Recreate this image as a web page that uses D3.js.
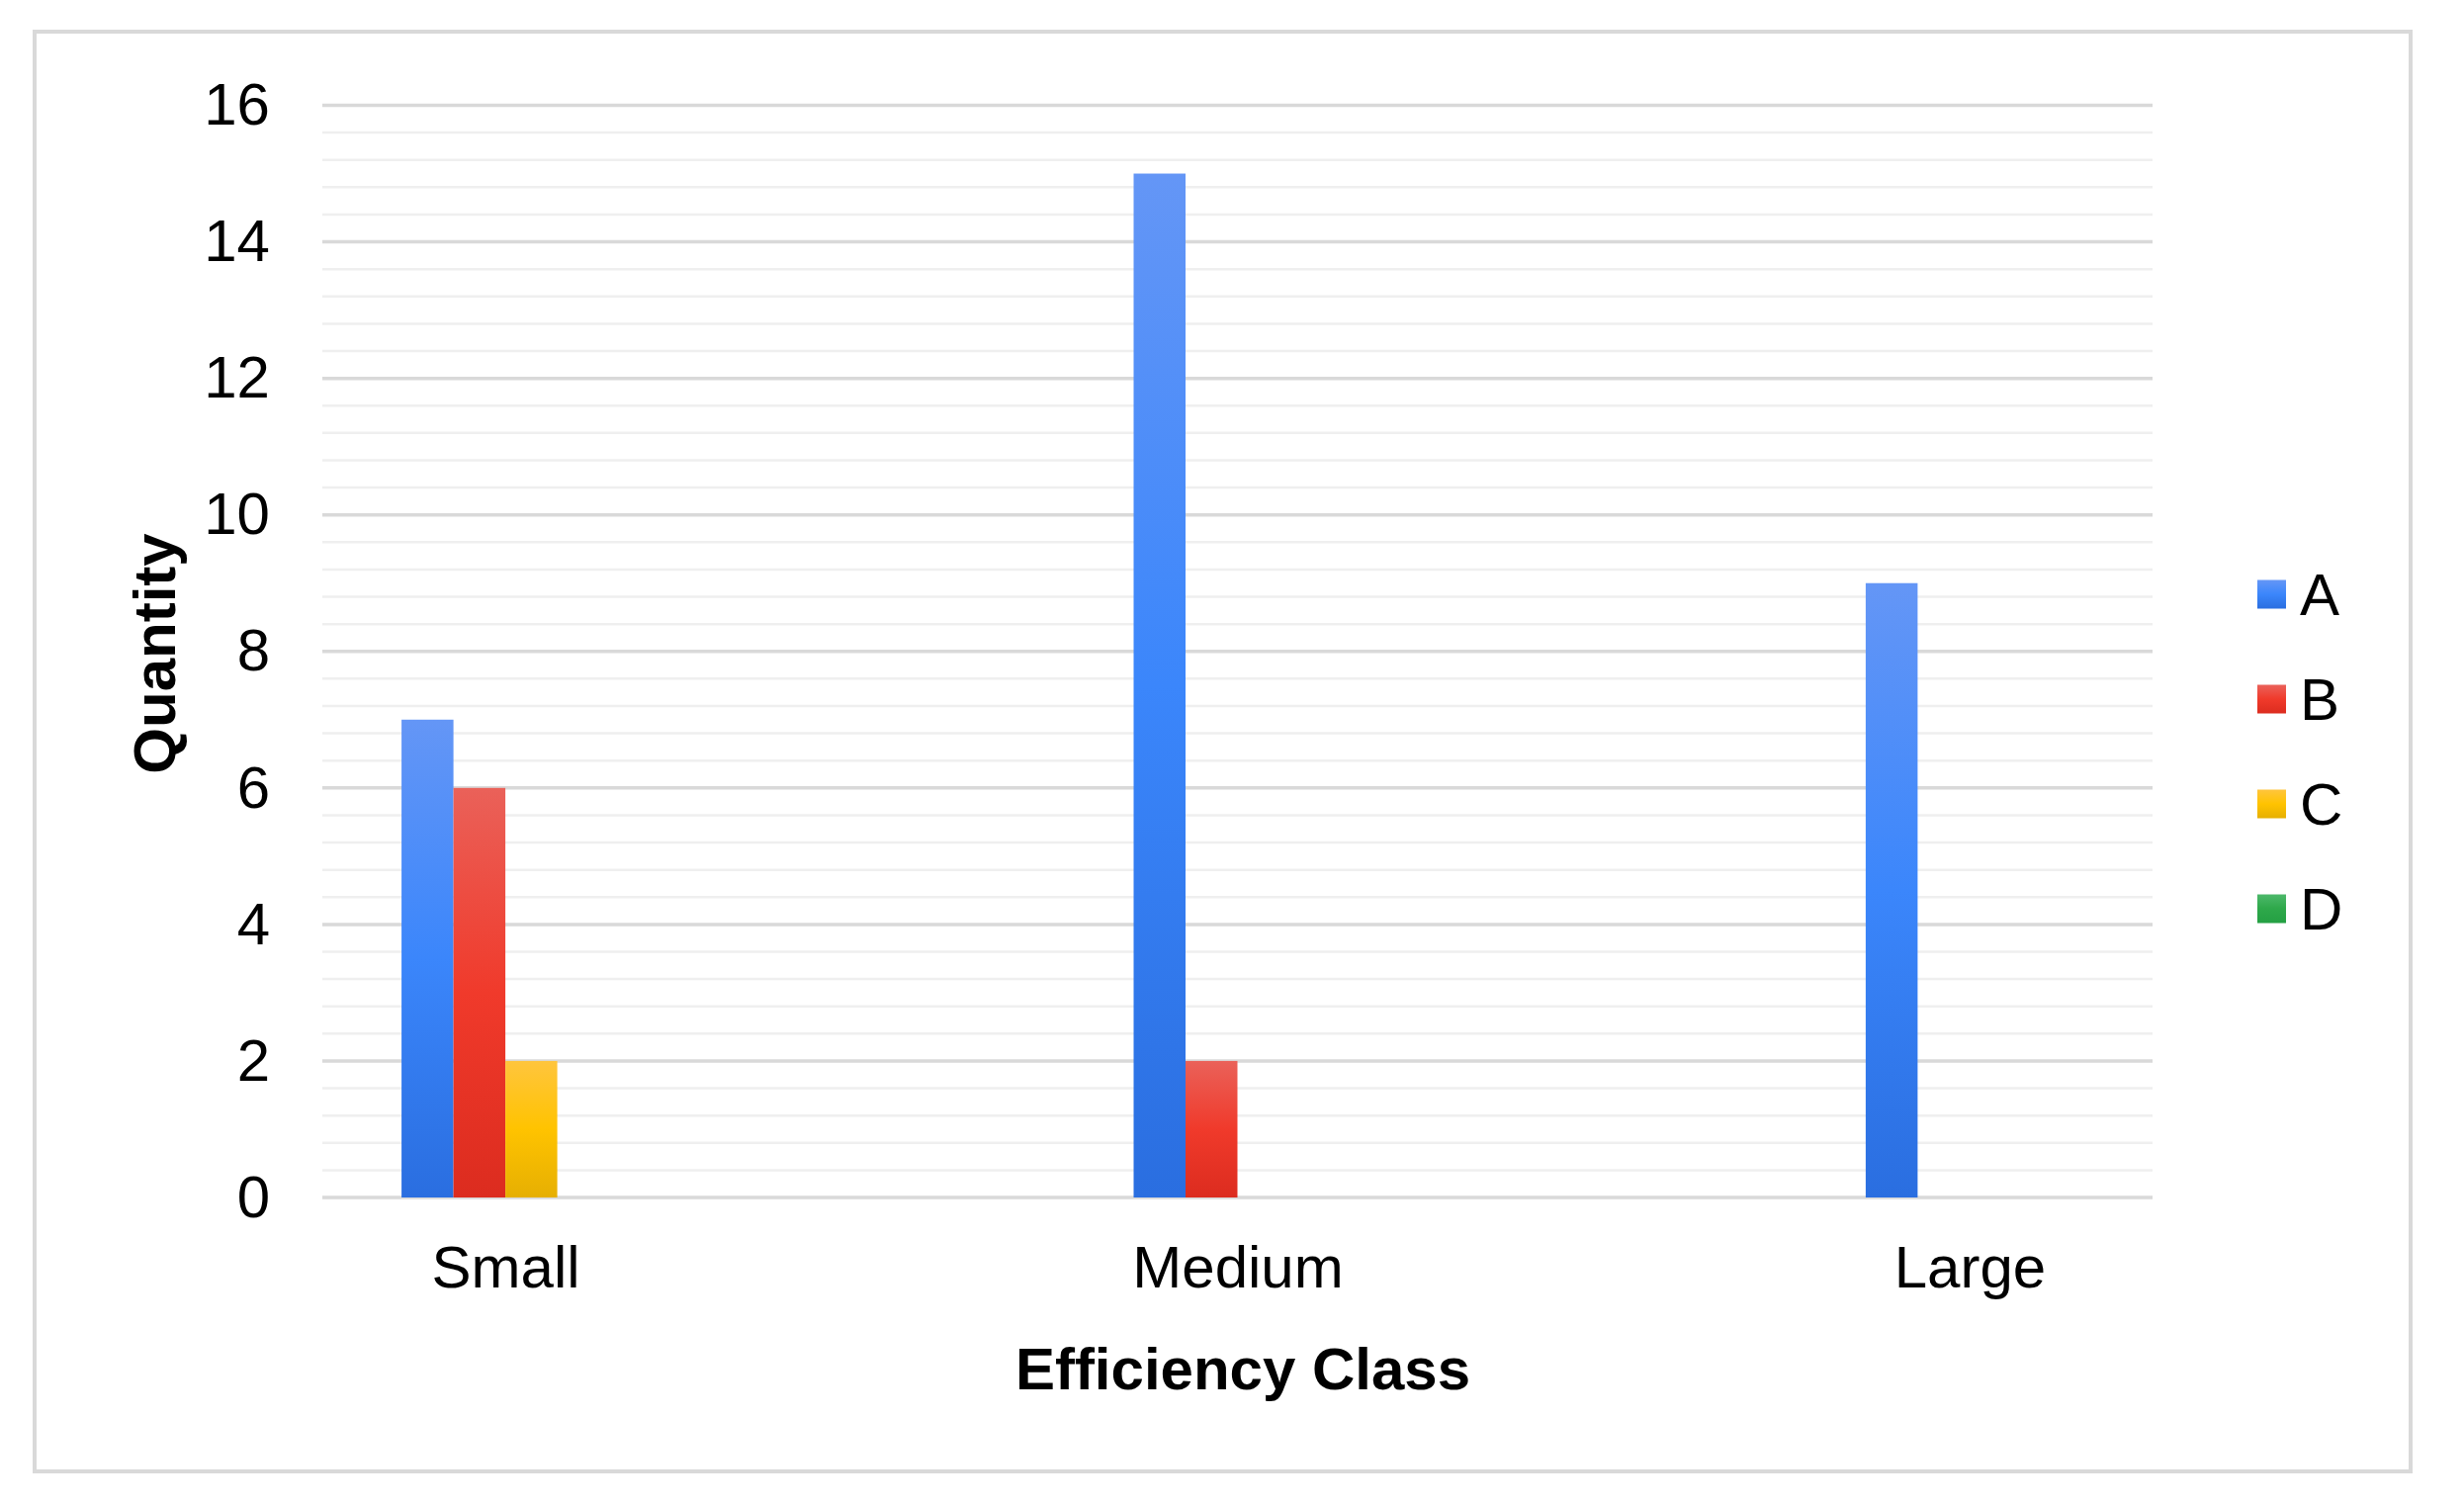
<!DOCTYPE html>
<html><head><meta charset="utf-8">
<script src="https://cdn.jsdelivr.net/npm/d3@7"></script>
<style>html,body{margin:0;padding:0;background:#fff;}svg{display:block;font-family:"Liberation Sans",Arial,sans-serif;}</style>
</head><body><svg id="c" width="2492" height="1523"></svg>
<script>
const categories = ["Small", "Medium", "Large"];
const seriesNames = ["A", "B", "C", "D"];
const valuesA = [7, 15, 9];
const valuesB = [6, 2, 0];
const valuesC = [2, 0, 0];
const valuesD = [0, 0, 0];
const yTicks = [0, 2, 4, 6, 8, 10, 12, 14, 16];
const seriesValues = [valuesA, valuesB, valuesC, valuesD];
const colors = {
  A: ["#6496f6", "#3b86fb", "#2a6ee0"],
  B: ["#ea6159", "#f03a2b", "#dc2c1f"],
  C: ["#ffc53d", "#ffc300", "#e6af02"],
  D: ["#4cb86a", "#2ea84a", "#24a043"]
};

(function () {
const svg = d3.select("#c");
const defs = svg.append("defs");
seriesNames.forEach(s => {
  const g = defs.append("linearGradient").attr("id", "g" + s).attr("x1", 0).attr("y1", 0).attr("x2", 0).attr("y2", 1);
  g.append("stop").attr("offset", "0%").attr("stop-color", colors[s][0]);
  g.append("stop").attr("offset", "50%").attr("stop-color", colors[s][1]);
  g.append("stop").attr("offset", "100%").attr("stop-color", colors[s][2]);
});

// frame
svg.append("rect").attr("x", 35).attr("y", 32).attr("width", 2403).attr("height", 1456)
  .attr("fill", "#fff").attr("stroke", "#d9d9d9").attr("stroke-width", 4);

const pLeft = 326, pRight = 2177, pTop = 106.5, pBottom = 1211;
const y = d3.scaleLinear().domain([0, 16]).range([pBottom, pTop]);
const x = d3.scalePoint().domain(categories).range([pLeft, pRight]).padding(0.25);
const groupW = 210;
const x1 = d3.scaleBand().domain(seriesNames).range([-groupW / 2, groupW / 2]).padding(0);

// minor gridlines
const minor = d3.range(0, 16.001, 0.4).filter(v => Math.abs(v / 2 - Math.round(v / 2)) > 1e-6);
svg.append("g").selectAll("line").data(minor).join("line")
  .attr("x1", pLeft).attr("x2", pRight)
  .attr("y1", d => y(d)).attr("y2", d => y(d))
  .attr("stroke", "#efefef").attr("stroke-width", 2.5);

// major gridlines
svg.append("g").selectAll("line").data(yTicks).join("line")
  .attr("x1", pLeft).attr("x2", pRight)
  .attr("y1", d => y(d)).attr("y2", d => y(d))
  .attr("stroke", "#d9d9d9").attr("stroke-width", 3.5);

// y axis labels
const yAxis = d3.axisLeft(y).tickValues(yTicks).tickSize(0).tickPadding(0);
const ga = svg.append("g").attr("transform", `translate(${pLeft - 53},0)`).call(yAxis);
ga.select(".domain").remove();
ga.selectAll("text").attr("font-size", 60).attr("fill", "#000")
  .attr("font-family", "Liberation Sans, Arial, sans-serif");

// bars
const data = [];
categories.forEach((c, i) => seriesNames.forEach((s, j) => data.push({c, s, v: seriesValues[j][i]})));
svg.append("g").selectAll("rect").data(data.filter(d => d.v > 0)).join("rect")
  .attr("x", d => x(d.c) + x1(d.s))
  .attr("width", x1.bandwidth())
  .attr("y", d => y(d.v))
  .attr("height", d => y(0) - y(d.v))
  .attr("fill", d => "url(#g" + d.s + ")");

// x axis labels
const xAxis = d3.axisBottom(x).tickSize(0).tickPadding(0);
const gx = svg.append("g").attr("transform", `translate(0,${pBottom + 48})`).call(xAxis);
gx.select(".domain").remove();
gx.selectAll("text").attr("font-size", 60).attr("fill", "#000")
  .attr("font-family", "Liberation Sans, Arial, sans-serif");

// axis titles
svg.append("text").attr("x", 1257).attr("y", 1405).attr("text-anchor", "middle")
  .attr("font-size", 60).attr("font-weight", "bold").text("Efficiency Class");
svg.append("text").attr("transform", "translate(177,661) rotate(-90)").attr("text-anchor", "middle")
  .attr("font-size", 60).attr("font-weight", "bold").text("Quantity");

// legend
const lg = svg.append("g").selectAll("g").data(seriesNames).join("g")
  .attr("transform", (d, i) => `translate(2283,${601 + i * 106})`);
lg.append("rect").attr("x", 0).attr("y", -14.5).attr("width", 29).attr("height", 29)
  .attr("fill", d => "url(#g" + d + ")");
lg.append("text").attr("x", 43).attr("y", 21).attr("font-size", 60).text(d => d);
})();
</script></body></html>
